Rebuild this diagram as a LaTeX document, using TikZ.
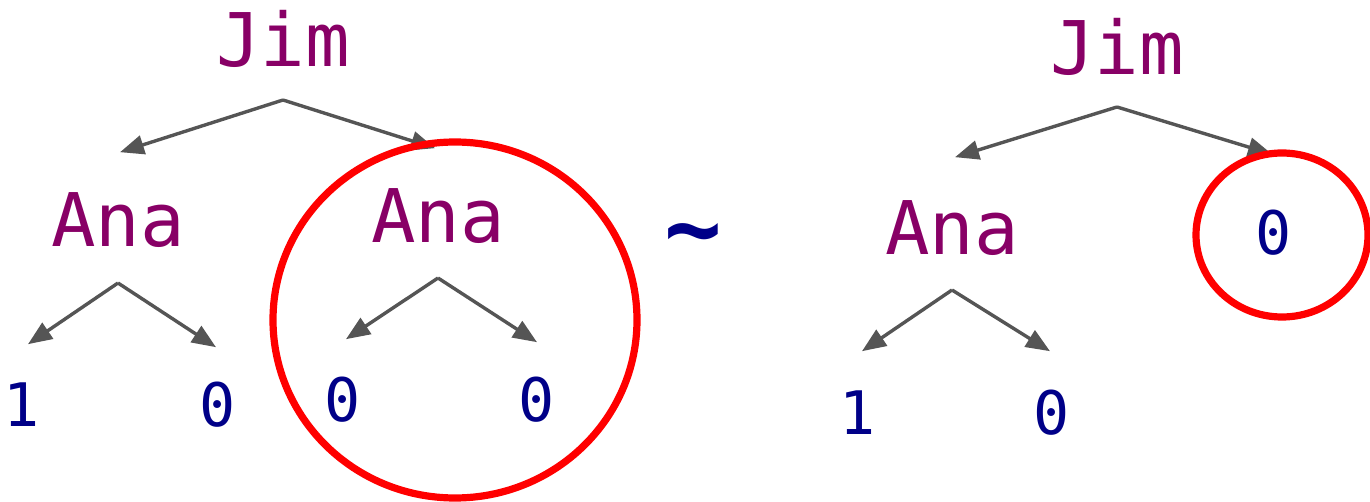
\documentclass[tikz,border=0pt]{standalone}
\usepackage{fontspec}
\setmonofont{DejaVu Sans Mono}
\usepackage{xcolor}
\usetikzlibrary{arrows.meta}
\definecolor{namecol}{HTML}{880066}
\definecolor{valcol}{HTML}{000088}
\definecolor{edgecol}{HTML}{555555}
\tikzset{
  person/.style={font=\ttfamily\fontsize{37}{40}\selectfont, text=namecol, inner sep=0pt, text height=27pt, text depth=0pt, anchor=south},
  leaf/.style={font=\ttfamily\fontsize{30}{32}\selectfont, text=valcol, inner sep=0pt, text height=22pt, text depth=0pt, anchor=south},
  edge/.style={draw=edgecol, line width=1.7pt, -{Triangle[length=12pt,width=9.5pt]}},
  ring/.style={draw=red, line width=3.6pt}
}
\begin{document}
\begin{tikzpicture}[x=0.5pt, y=-0.5pt]
\useasboundingbox (0,0) rectangle (1370,502);
% left tree
\node[person] (jimL) at (283,67) {Jim};
\node[person] (anaL) at (118,247) {Ana};
\node[person] (anaC) at (438,243) {Ana};
\node[leaf] (l1) at (22,427) {1};
\node[leaf] (l2) at (218,427) {0};
\node[leaf] (l3) at (343,422) {0};
\node[leaf] (l4) at (537,422) {0};
\draw[edge] ([yshift=-16.5pt]jimL.south) -- ([xshift=1pt,yshift=20pt]anaL.north);
\draw[edge] ([yshift=-16.5pt]jimL.south) -- ([xshift=-1.5pt,yshift=20pt]anaC.north);
\draw[edge] ([yshift=-18pt]anaL.south) -- ([xshift=3pt,yshift=19pt]l1.north);
\draw[edge] ([yshift=-18pt]anaL.south) -- ([xshift=-1pt,yshift=17.5pt]l2.north);
\draw[edge] ([yshift=-17.5pt]anaC.south) -- ([xshift=1.5pt,yshift=19pt]l3.north);
\draw[edge] ([yshift=-17.5pt]anaC.south) -- ([yshift=17.5pt]l4.north);
\draw[ring] (455,320) ellipse [x radius=91pt, y radius=89pt];
% similarity
\node[font=\ttfamily\fontsize{48}{50}\selectfont\bfseries, text=valcol, inner sep=0pt] (sim) at (693,242) {\textasciitilde};
% right tree
\node[person] (jimR) at (1117,75) {Jim};
\node[person] (anaR) at (952,255) {Ana};
\node[leaf] (zR) at (1274,255) {0};
\node[leaf] (r1) at (858,435) {1};
\node[leaf] (r2) at (1052,435) {0};
\draw[edge] ([yshift=-16pt]jimR.south) -- ([xshift=1.5pt,yshift=21.5pt]anaR.north);
\draw[edge] ([yshift=-16pt]jimR.south) -- ([xshift=-1pt,yshift=28pt]zR.north);
\draw[edge] ([yshift=-17.5pt]anaR.south) -- ([xshift=2pt,yshift=19.5pt]r1.north);
\draw[edge] ([yshift=-17.5pt]anaR.south) -- ([xshift=-1pt,yshift=19.5pt]r2.north);
\draw[ring] (1282,235) ellipse [x radius=43pt, y radius=41pt];
\end{tikzpicture}
\end{document}
